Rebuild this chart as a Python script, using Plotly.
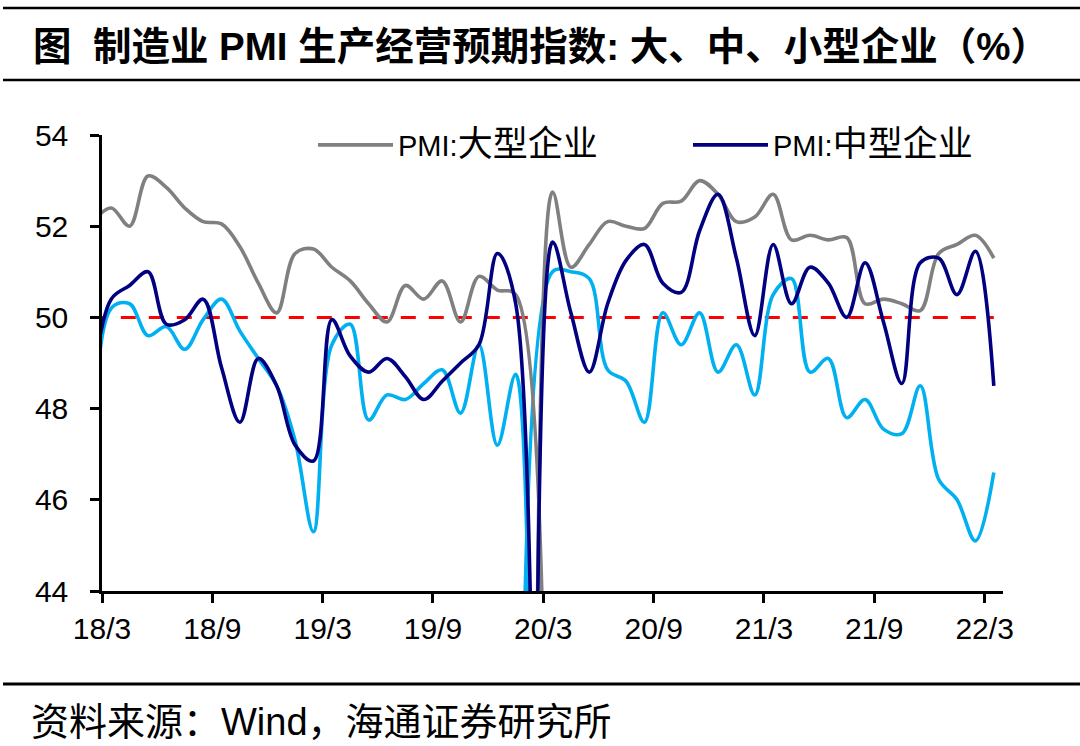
import plotly.graph_objects as go
import pandas as pd

# Months (2018-02 sits just left of the axis start; 2020-02 is missing in the source -> plotted as 0, as in the reference)
months = [p.strftime("%Y-%m") for p in pd.period_range("2018-02", "2022-03", freq="M")]

large = [52.1, 52.4, 52.0, 53.1, 52.85, 52.4, 52.1, 52.05, 51.55, 50.75, 50.1, 51.4, 51.5,
         51.1, 50.8, 50.3, 49.9, 50.7, 50.4, 50.8, 49.9, 50.9, 50.6, 50.5, 0,
         52.75, 51.1, 51.6, 52.1, 52.0, 51.95, 52.5, 52.55, 53.0, 52.7, 52.1, 52.2,
         52.7, 51.7, 51.8, 51.7, 51.75, 50.3, 50.4, 50.3, 50.15, 51.4, 51.6, 51.8, 51.3]

medium = [48.5, 50.4, 50.7, 51.0, 49.85, 49.95, 50.4, 48.9, 47.7, 49.1, 48.5, 47.2, 46.85,
          49.95, 49.15, 48.8, 49.1, 48.7, 48.2, 48.6, 49.0, 49.4, 51.4, 50.3, 0,
          51.65, 50.1, 48.8, 50.3, 51.25, 51.6, 50.75, 50.55, 51.9, 52.7, 51.3, 49.6,
          51.6, 50.3, 51.1, 50.75, 50.0, 51.2, 49.9, 48.55, 51.2, 51.3, 50.5, 51.45, 48.5]

small = [42.5, 50.2, 50.3, 49.6, 49.8, 49.3, 49.95, 50.4, 49.7, 49.1, 48.5, 47.3, 45.3,
         49.4, 49.85, 47.75, 48.3, 48.2, 48.55, 48.85, 47.9, 49.4, 47.2, 48.75, 0,
         51.0, 51.0, 50.85, 48.85, 48.6, 47.7, 50.1, 49.4, 50.1, 48.8, 49.4, 48.3,
         50.5, 50.85, 48.8, 49.1, 47.8, 48.2, 47.55, 47.45, 48.5, 46.45, 46.0, 45.1, 46.6]

threshold = 50
tick_labels = ["18/3", "18/9", "19/3", "19/9", "20/3", "20/9", "21/3", "21/9", "22/3"]
y_ticks = [44, 46, 48, 50, 52, 54]

# x position: month index relative to the 2018-03 tick, points centred in their month
x = [i - 1 + 0.5 for i in range(len(months))]
tick_pos = [6 * k for k in range(len(tick_labels))]

FONT = "Liberation Sans, Arial, Noto Sans CJK SC"

def legend_label(latin, cjk):
    return f"{latin}<span style='font-size:35px'>{cjk}</span>"

fig = go.Figure()
fig.add_trace(go.Scatter(x=x, y=[threshold] * len(x), mode="lines", showlegend=False,
                         line=dict(color="#FF0000", width=3, dash="15px,13px"), hoverinfo="skip"))
fig.add_trace(go.Scatter(x=x, y=small, mode="lines", name="PMI:小型企业", showlegend=False,
                         line=dict(color="#00B0F0", width=3.6, shape="spline", smoothing=1)))
fig.add_trace(go.Scatter(x=x, y=large, mode="lines", name=legend_label("PMI:", "大型企业"),
                         legend="legend",
                         line=dict(color="#808080", width=3.6, shape="spline", smoothing=1)))
fig.add_trace(go.Scatter(x=x, y=medium, mode="lines", name=legend_label("PMI:", "中型企业"),
                         legend="legend2",
                         line=dict(color="#000080", width=3.6, shape="spline", smoothing=1)))

L, R, T, B = 102, 77, 135, 155
W, H = 1080, 746
pw, ph = W - L - R, H - T - B

def px_x(p):
    return (p - L) / pw

def px_y(p):
    return (H - B - p) / ph

shapes = []
for yy, wdt in [(8, 2.5), (80, 2.5), (684, 3)]:
    shapes.append(dict(type="line", xref="paper", yref="paper", x0=px_x(3), x1=px_x(1080),
                       y0=px_y(yy), y1=px_y(yy), line=dict(color="black", width=wdt)))

legend_common = dict(orientation="h", xanchor="left", yanchor="middle",
                     font=dict(size=29, family=FONT, color="black"), itemwidth=75,
                     bgcolor="rgba(0,0,0,0)")

fig.update_layout(
    width=W, height=H,
    margin=dict(l=L, r=R, t=T, b=B),
    paper_bgcolor="white", plot_bgcolor="white",
    font=dict(family=FONT, size=30, color="black"),
    showlegend=True,
    legend=dict(x=px_x(313), y=px_y(145), **legend_common),
    legend2=dict(x=px_x(688), y=px_y(145), **legend_common),
    xaxis=dict(range=[0, 49], tickmode="array", tickvals=tick_pos, ticktext=tick_labels,
               showline=True, linecolor="black", linewidth=2.5, ticks="outside", ticklen=9,
               tickwidth=2.5, tickcolor="black", showgrid=False, zeroline=False,
               tickfont=dict(size=30, family=FONT)),
    yaxis=dict(range=[44, 54], tickmode="array", tickvals=y_ticks,
               showline=True, linecolor="black", linewidth=2.5, ticks="outside", ticklen=9,
               tickwidth=2.5, tickcolor="black", showgrid=False, zeroline=False,
               ticklabelstandoff=16, tickfont=dict(size=30, family=FONT)),
    shapes=shapes,
    annotations=[
        dict(text="<b>图  制造业 PMI 生产经营预期指数: 大、中、小型企业（%）</b>", xref="paper", yref="paper",
             x=px_x(31), y=px_y(46), xanchor="left", yanchor="middle", showarrow=False,
             font=dict(size=38.5, family=FONT, color="black")),
        dict(text="资料来源：Wind，海通证券研究所", xref="paper", yref="paper",
             x=px_x(29), y=px_y(722), xanchor="left", yanchor="middle", showarrow=False,
             font=dict(size=38, family=FONT, color="black")),
    ],
)

fig.write_html("out.html", config={"displayModeBar": False},
               post_script="document.body.style.margin='0px';document.body.style.overflow='hidden';")
